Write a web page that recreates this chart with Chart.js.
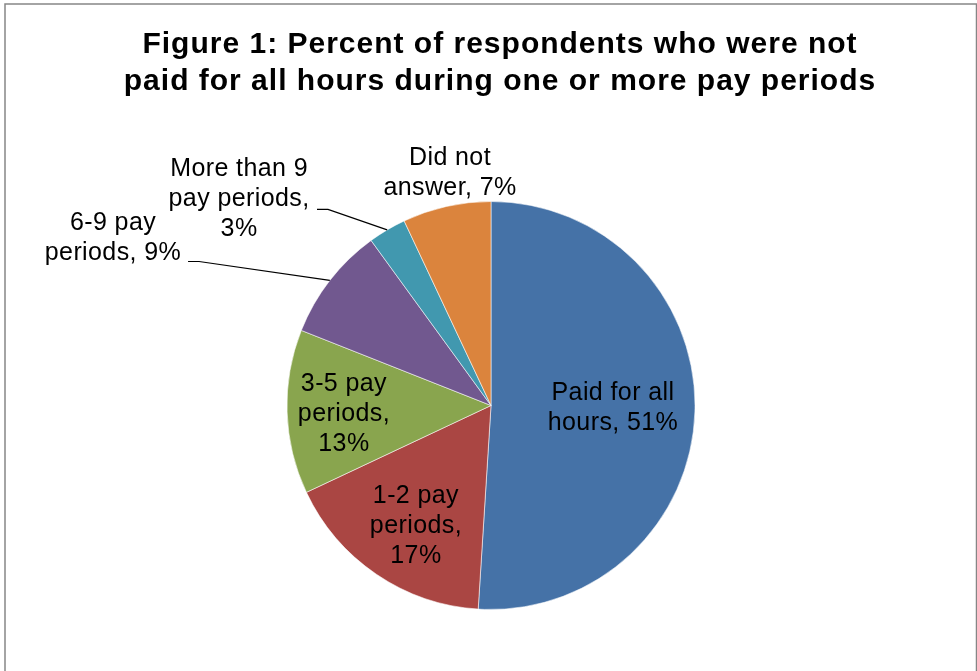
<!DOCTYPE html>
<html>
<head>
<meta charset="utf-8">
<script src="https://cdn.jsdelivr.net/npm/chart.js@4"></script>
<style>
    body { margin: 0; background: #ffffff; }
    canvas { display: block; }
</style>
</head>
<body>
<canvas id="payChart" width="977" height="671"></canvas>
<script>
const titleLines = [
    "Figure 1: Percent of respondents who were not",
    "paid for all hours during one or more pay periods",
];
const categories = [
    "Paid for all hours",
    "1-2 pay periods",
    "3-5 pay periods",
    "6-9 pay periods",
    "More than 9 pay periods",
    "Did not answer",
];
const percents = [51, 17, 13, 9, 3, 7];
// how each data label wraps, {p} is replaced by the percent
const labelWrap = [
    ["Paid for all", "hours, {p}"],
    ["1-2 pay", "periods,", "{p}"],
    ["3-5 pay", "periods,", "{p}"],
    ["6-9 pay", "periods, {p}"],
    ["More than 9", "pay periods,", "{p}"],
    ["Did not", "answer, {p}"],
];
const sliceColors = ["#4572a7", "#aa4643", "#89a54e", "#71588f", "#4198af", "#db843d"];

// label centres and leader starts, in units of the pie radius from its centre
const labelSpots = [
    [0.598, 0.015],
    [-0.368, 0.593],
    [-0.721, 0.044],
    [-1.853, -0.821],
    [-1.235, -1.012],
    [-0.201, -1.140],
];
const leaderStarts = [null, null, null, [-1.485, -0.706], [-0.853, -0.961], null];
const leaderRun = 11; // short flat bit of the leader, px

const FONT = "'Liberation Sans', Arial, sans-serif";

const figureText = {
    id: "figureText",
    beforeDraw(chart) {
        const ctx = chart.ctx;
        ctx.save();
        ctx.fillStyle = "#ffffff";
        ctx.fillRect(0, 0, chart.width, chart.height);
        ctx.strokeStyle = "#868686";
        ctx.lineWidth = 1.5;
        ctx.strokeRect(5, 4, 971.5, 720);
        ctx.restore();
    },
    afterDatasetsDraw(chart) {
        const ctx = chart.ctx;
        const meta = chart.getDatasetMeta(0);
        ctx.save();
        ctx.fillStyle = "#000000";
        ctx.textAlign = "center";

        ctx.font = "bold 30px " + FONT;
        ctx.letterSpacing = "1px";
        ctx.textBaseline = "alphabetic";
        titleLines.forEach((t, i) => ctx.fillText(t, 500, 53 + i * 37));

        ctx.font = "25px " + FONT;
        ctx.letterSpacing = "0.4px";
        ctx.textBaseline = "middle";
        ctx.strokeStyle = "#000000";
        ctx.lineWidth = 1.2;
        meta.data.forEach((arc, i) => {
            const { x, y, outerRadius, startAngle, endAngle } = arc.getProps(
                ["x", "y", "outerRadius", "startAngle", "endAngle"], true);
            const r = outerRadius;
            const lines = labelWrap[i].map((s) => s.replace("{p}", percents[i] + "%"));
            const cx = x + labelSpots[i][0] * r;
            const cy = y + labelSpots[i][1] * r;
            const lh = 30;
            const top = cy - (lines.length - 1) * lh / 2;
            lines.forEach((s, j) => ctx.fillText(s, cx, top + j * lh));

            if (leaderStarts[i]) {
                const mid = (startAngle + endAngle) / 2;
                const sx = x + leaderStarts[i][0] * r;
                const sy = y + leaderStarts[i][1] * r;
                ctx.beginPath();
                ctx.moveTo(sx, sy);
                ctx.lineTo(sx + leaderRun, sy);
                ctx.lineTo(x + Math.cos(mid) * r, y + Math.sin(mid) * r);
                ctx.stroke();
            }
        });
        ctx.restore();
    },
};

new Chart("payChart", {
    type: "pie",
    data: {
        labels: categories,
        datasets: [
            {
                data: percents,
                backgroundColor: sliceColors,
                borderColor: "rgba(255,255,255,0.55)",
                borderWidth: 1,
            },
        ],
    },
    options: {
        responsive: false,
        animation: false,
        layout: { padding: { top: 201, bottom: 61, left: 5, right: 0 } },
        plugins: {
            legend: { display: false },
            tooltip: { enabled: false },
            title: { display: false },
        },
    },
    plugins: [figureText],
});
</script>
</body>
</html>
